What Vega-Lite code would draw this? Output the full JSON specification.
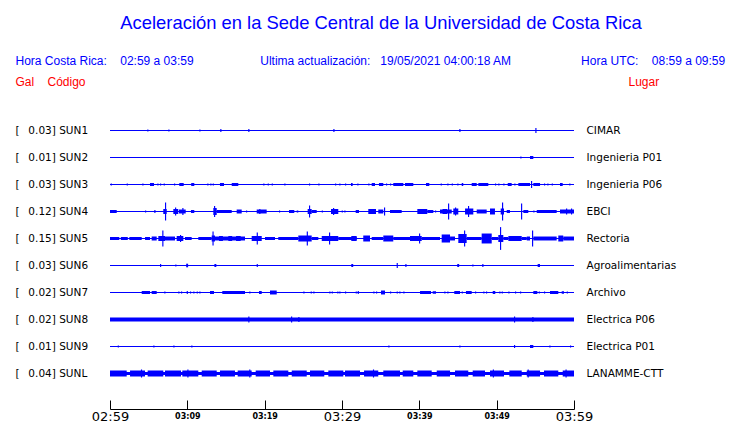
{
"$schema": "https://vega.github.io/schema/vega-lite/v6.json",
"autosize": {"type": "none"},
"padding": {"left": 110, "top": 117, "right": 166, "bottom": 36},
"width": 464,
"height": 270,
"background": "white",
"title": {"text": "Aceleración en la Sede Central de la Universidad de Costa Rica", "anchor": "middle", "frame": "group", "dx": 39, "font": "Liberation Sans", "fontSize": 18.4, "fontWeight": "normal", "color": "#0000ff", "offset": 7, "baseline": "alphabetic"},
"config": {"view": {"stroke": null}, "axis": {"grid": false}},
"datasets": {
"st": [{"s":"SUN1"},{"s":"SUN2"},{"s":"SUN3"},{"s":"SUN4"},{"s":"SUN5"},{"s":"SUN6"},{"s":"SUN7"},{"s":"SUN8"},{"s":"SUN9"},{"s":"SUNL"}],
"tr": [
{"s":"SUN1","t0":4.82,"t1":4.97,"a":0.017},{"s":"SUN1","t0":7.54,"t1":7.69,"a":0.017},{"s":"SUN1","t0":11.55,"t1":11.7,"a":0.017},{"s":"SUN1","t0":14.26,"t1":14.41,"a":0.025},{"s":"SUN1","t0":17.88,"t1":18.03,"a":0.025},{"s":"SUN1","t0":28.88,"t1":29.03,"a":0.025},{"s":"SUN1","t0":45.17,"t1":45.32,"a":0.025},{"s":"SUN1","t0":55.0,"t1":55.15,"a":0.042},
{"s":"SUN2","t0":53.06,"t1":53.21,"a":0.017},{"s":"SUN2","t0":54.31,"t1":54.74,"a":0.025},
{"s":"SUN3","t0":0.09,"t1":0.24,"a":0.017},{"s":"SUN3","t0":2.16,"t1":2.31,"a":0.017},{"s":"SUN3","t0":4.18,"t1":4.33,"a":0.017},{"s":"SUN3","t0":5.17,"t1":5.69,"a":0.025},{"s":"SUN3","t0":6.12,"t1":6.27,"a":0.017},{"s":"SUN3","t0":6.47,"t1":6.62,"a":0.017},{"s":"SUN3","t0":6.94,"t1":7.09,"a":0.017},{"s":"SUN3","t0":8.28,"t1":8.43,"a":0.017},{"s":"SUN3","t0":8.96,"t1":9.53,"a":0.025},{"s":"SUN3","t0":10.5,"t1":10.9,"a":0.025},{"s":"SUN3","t0":12.58,"t1":12.73,"a":0.017},{"s":"SUN3","t0":12.97,"t1":13.12,"a":0.017},{"s":"SUN3","t0":13.28,"t1":13.43,"a":0.017},{"s":"SUN3","t0":14.22,"t1":14.74,"a":0.025},{"s":"SUN3","t0":15.74,"t1":16.59,"a":0.025},{"s":"SUN3","t0":19.82,"t1":19.97,"a":0.017},{"s":"SUN3","t0":20.39,"t1":20.54,"a":0.017},{"s":"SUN3","t0":20.91,"t1":21.06,"a":0.017},{"s":"SUN3","t0":22.54,"t1":22.69,"a":0.017},{"s":"SUN3","t0":25.73,"t1":25.88,"a":0.017},{"s":"SUN3","t0":26.94,"t1":27.09,"a":0.017},{"s":"SUN3","t0":29.1,"t1":29.25,"a":0.017},{"s":"SUN3","t0":29.65,"t1":29.8,"a":0.017},{"s":"SUN3","t0":30.39,"t1":30.54,"a":0.017},{"s":"SUN3","t0":31.16,"t1":31.38,"a":0.025},{"s":"SUN3","t0":31.98,"t1":32.13,"a":0.017},{"s":"SUN3","t0":33.4,"t1":33.55,"a":0.017},{"s":"SUN3","t0":33.84,"t1":34.27,"a":0.025},{"s":"SUN3","t0":34.78,"t1":35.34,"a":0.025},{"s":"SUN3","t0":35.69,"t1":35.84,"a":0.017},{"s":"SUN3","t0":36.21,"t1":36.36,"a":0.017},{"s":"SUN3","t0":36.63,"t1":37.93,"a":0.025},{"s":"SUN3","t0":38.15,"t1":39.22,"a":0.025},{"s":"SUN3","t0":40.86,"t1":41.29,"a":0.025},{"s":"SUN3","t0":42.76,"t1":42.91,"a":0.017},{"s":"SUN3","t0":43.62,"t1":43.77,"a":0.017},{"s":"SUN3","t0":44.19,"t1":44.34,"a":0.017},{"s":"SUN3","t0":44.91,"t1":45.06,"a":0.017},{"s":"SUN3","t0":45.48,"t1":45.68,"a":0.025},{"s":"SUN3","t0":46.77,"t1":47.42,"a":0.025},{"s":"SUN3","t0":47.63,"t1":48.92,"a":0.025},{"s":"SUN3","t0":49.78,"t1":49.93,"a":0.017},{"s":"SUN3","t0":50.21,"t1":50.36,"a":0.017},{"s":"SUN3","t0":50.86,"t1":51.01,"a":0.017},{"s":"SUN3","t0":51.43,"t1":51.94,"a":0.025},{"s":"SUN3","t0":52.28,"t1":52.43,"a":0.017},{"s":"SUN3","t0":52.8,"t1":54.31,"a":0.025},{"s":"SUN3","t0":54.44,"t1":54.59,"a":0.058},{"s":"SUN3","t0":54.74,"t1":55.61,"a":0.025},{"s":"SUN3","t0":56.12,"t1":56.27,"a":0.017},{"s":"SUN3","t0":56.55,"t1":56.7,"a":0.017},{"s":"SUN3","t0":57.12,"t1":57.27,"a":0.017},{"s":"SUN3","t0":58.19,"t1":58.54,"a":0.025},{"s":"SUN3","t0":59.39,"t1":59.54,"a":0.017},
{"s":"SUN4","t0":0,"t1":0.87,"a":0.025},{"s":"SUN4","t0":4.53,"t1":4.68,"a":0.017},{"s":"SUN4","t0":5.73,"t1":5.88,"a":0.025},{"s":"SUN4","t0":6.89,"t1":7.33,"a":0.042},{"s":"SUN4","t0":7.11,"t1":7.26,"a":0.15},{"s":"SUN4","t0":8.19,"t1":8.83,"a":0.042},{"s":"SUN4","t0":8.41,"t1":8.56,"a":0.067},{"s":"SUN4","t0":8.92,"t1":9.79,"a":0.033},{"s":"SUN4","t0":9.35,"t1":9.5,"a":0.058},{"s":"SUN4","t0":10.47,"t1":10.9,"a":0.025},{"s":"SUN4","t0":13.36,"t1":13.8,"a":0.058},{"s":"SUN4","t0":13.45,"t1":13.6,"a":0.092},{"s":"SUN4","t0":13.8,"t1":15.74,"a":0.025},{"s":"SUN4","t0":16.38,"t1":17.03,"a":0.033},{"s":"SUN4","t0":17.59,"t1":17.74,"a":0.017},{"s":"SUN4","t0":18.97,"t1":20.26,"a":0.033},{"s":"SUN4","t0":19.3,"t1":19.45,"a":0.042},{"s":"SUN4","t0":21.85,"t1":22.0,"a":0.017},{"s":"SUN4","t0":23.15,"t1":23.83,"a":0.025},{"s":"SUN4","t0":24.14,"t1":24.35,"a":0.017},{"s":"SUN4","t0":25.56,"t1":26.08,"a":0.042},{"s":"SUN4","t0":25.73,"t1":25.88,"a":0.1},{"s":"SUN4","t0":26.08,"t1":26.73,"a":0.025},{"s":"SUN4","t0":27.38,"t1":27.53,"a":0.017},{"s":"SUN4","t0":28.58,"t1":29.52,"a":0.042},{"s":"SUN4","t0":28.84,"t1":28.99,"a":0.058},{"s":"SUN4","t0":29.96,"t1":30.11,"a":0.017},{"s":"SUN4","t0":30.3,"t1":30.45,"a":0.017},{"s":"SUN4","t0":31.77,"t1":32.2,"a":0.025},{"s":"SUN4","t0":33.4,"t1":34.4,"a":0.042},{"s":"SUN4","t0":34.69,"t1":35.34,"a":0.033},{"s":"SUN4","t0":35.43,"t1":35.58,"a":0.067},{"s":"SUN4","t0":36.21,"t1":37.72,"a":0.025},{"s":"SUN4","t0":39.74,"t1":41.03,"a":0.042},{"s":"SUN4","t0":41.03,"t1":41.81,"a":0.025},{"s":"SUN4","t0":42.03,"t1":42.18,"a":0.017},{"s":"SUN4","t0":42.67,"t1":44.19,"a":0.033},{"s":"SUN4","t0":43.0,"t1":43.6,"a":0.042},{"s":"SUN4","t0":43.71,"t1":43.86,"a":0.133},{"s":"SUN4","t0":44.39,"t1":45.04,"a":0.05},{"s":"SUN4","t0":44.61,"t1":44.76,"a":0.067},{"s":"SUN4","t0":45.91,"t1":46.98,"a":0.05},{"s":"SUN4","t0":46.29,"t1":46.44,"a":0.092},{"s":"SUN4","t0":47.42,"t1":48.71,"a":0.033},{"s":"SUN4","t0":49.14,"t1":49.78,"a":0.05},{"s":"SUN4","t0":50.52,"t1":50.95,"a":0.05},{"s":"SUN4","t0":50.69,"t1":50.84,"a":0.15},{"s":"SUN4","t0":51.3,"t1":51.72,"a":0.025},{"s":"SUN4","t0":53.15,"t1":53.3,"a":0.133},{"s":"SUN4","t0":53.45,"t1":54.09,"a":0.025},{"s":"SUN4","t0":54.74,"t1":54.89,"a":0.017},{"s":"SUN4","t0":55.18,"t1":57.76,"a":0.025},{"s":"SUN4","t0":58.19,"t1":60,"a":0.033},{"s":"SUN4","t0":58.97,"t1":59.12,"a":0.05},{"s":"SUN4","t0":59.61,"t1":59.76,"a":0.05},
{"s":"SUN5","t0":0,"t1":1.2,"a":0.025},{"s":"SUN5","t0":1.4,"t1":2.3,"a":0.025},{"s":"SUN5","t0":2.5,"t1":4.1,"a":0.025},{"s":"SUN5","t0":4.53,"t1":5.17,"a":0.025},{"s":"SUN5","t0":5.39,"t1":6.04,"a":0.033},{"s":"SUN5","t0":6.25,"t1":7.11,"a":0.042},{"s":"SUN5","t0":6.76,"t1":6.91,"a":0.133},{"s":"SUN5","t0":7.11,"t1":8.41,"a":0.033},{"s":"SUN5","t0":8.62,"t1":9.48,"a":0.042},{"s":"SUN5","t0":9.05,"t1":9.2,"a":0.058},{"s":"SUN5","t0":9.7,"t1":10.56,"a":0.025},{"s":"SUN5","t0":11.42,"t1":13.15,"a":0.025},{"s":"SUN5","t0":13.15,"t1":13.58,"a":0.05},{"s":"SUN5","t0":13.25,"t1":13.4,"a":0.117},{"s":"SUN5","t0":13.58,"t1":17.46,"a":0.033},{"s":"SUN5","t0":14.1,"t1":14.6,"a":0.042},{"s":"SUN5","t0":15.3,"t1":15.8,"a":0.042},{"s":"SUN5","t0":16.3,"t1":16.9,"a":0.042},{"s":"SUN5","t0":18.32,"t1":19.62,"a":0.042},{"s":"SUN5","t0":18.97,"t1":19.12,"a":0.1},{"s":"SUN5","t0":20.04,"t1":21.34,"a":0.025},{"s":"SUN5","t0":21.76,"t1":24.35,"a":0.025},{"s":"SUN5","t0":24.35,"t1":26.08,"a":0.05},{"s":"SUN5","t0":25.44,"t1":25.59,"a":0.117},{"s":"SUN5","t0":26.08,"t1":26.94,"a":0.025},{"s":"SUN5","t0":27.38,"t1":29.52,"a":0.042},{"s":"SUN5","t0":28.32,"t1":28.47,"a":0.1},{"s":"SUN5","t0":29.52,"t1":31.9,"a":0.025},{"s":"SUN5","t0":31.2,"t1":31.9,"a":0.042},{"s":"SUN5","t0":32.75,"t1":33.62,"a":0.05},{"s":"SUN5","t0":33.84,"t1":35.34,"a":0.025},{"s":"SUN5","t0":35.34,"t1":36.63,"a":0.05},{"s":"SUN5","t0":36.63,"t1":38.79,"a":0.025},{"s":"SUN5","t0":38.79,"t1":40.31,"a":0.042},{"s":"SUN5","t0":39.96,"t1":40.11,"a":0.083},{"s":"SUN5","t0":40.31,"t1":42.67,"a":0.025},{"s":"SUN5","t0":42.89,"t1":43.97,"a":0.067},{"s":"SUN5","t0":43.97,"t1":44.61,"a":0.033},{"s":"SUN5","t0":45.04,"t1":46.12,"a":0.075},{"s":"SUN5","t0":45.78,"t1":45.93,"a":0.133},{"s":"SUN5","t0":46.12,"t1":48.06,"a":0.025},{"s":"SUN5","t0":48.06,"t1":49.36,"a":0.083},{"s":"SUN5","t0":49.36,"t1":50.21,"a":0.025},{"s":"SUN5","t0":50.21,"t1":50.86,"a":0.058},{"s":"SUN5","t0":50.43,"t1":50.58,"a":0.19},{"s":"SUN5","t0":50.86,"t1":51.51,"a":0.025},{"s":"SUN5","t0":51.51,"t1":53.24,"a":0.042},{"s":"SUN5","t0":53.24,"t1":53.89,"a":0.025},{"s":"SUN5","t0":53.89,"t1":54.31,"a":0.033},{"s":"SUN5","t0":54.57,"t1":54.72,"a":0.133},{"s":"SUN5","t0":54.74,"t1":57.76,"a":0.033},{"s":"SUN5","t0":57.97,"t1":58.61,"a":0.05},{"s":"SUN5","t0":58.61,"t1":60,"a":0.033},
{"s":"SUN6","t0":6.47,"t1":6.62,"a":0.025},{"s":"SUN6","t0":8.44,"t1":8.59,"a":0.017},{"s":"SUN6","t0":9.85,"t1":10.1,"a":0.03},{"s":"SUN6","t0":13.5,"t1":13.75,"a":0.025},{"s":"SUN6","t0":18.97,"t1":19.12,"a":0.025},{"s":"SUN6","t0":31.2,"t1":31.45,"a":0.025},{"s":"SUN6","t0":37.07,"t1":37.22,"a":0.042},{"s":"SUN6","t0":38.19,"t1":38.34,"a":0.025},{"s":"SUN6","t0":44.9,"t1":45.15,"a":0.025},{"s":"SUN6","t0":46.85,"t1":47.0,"a":0.017},{"s":"SUN6","t0":48.14,"t1":48.29,"a":0.025},{"s":"SUN6","t0":55.3,"t1":55.6,"a":0.025},
{"s":"SUN7","t0":4.1,"t1":5.17,"a":0.025},{"s":"SUN7","t0":5.39,"t1":6.04,"a":0.025},{"s":"SUN7","t0":7.02,"t1":7.17,"a":0.017},{"s":"SUN7","t0":8.83,"t1":8.98,"a":0.017},{"s":"SUN7","t0":9.18,"t1":9.33,"a":0.017},{"s":"SUN7","t0":9.92,"t1":10.07,"a":0.025},{"s":"SUN7","t0":10.34,"t1":10.49,"a":0.017},{"s":"SUN7","t0":10.77,"t1":10.92,"a":0.017},{"s":"SUN7","t0":11.21,"t1":11.36,"a":0.017},{"s":"SUN7","t0":11.55,"t1":11.7,"a":0.017},{"s":"SUN7","t0":12.93,"t1":13.45,"a":0.025},{"s":"SUN7","t0":14.52,"t1":17.46,"a":0.025},{"s":"SUN7","t0":18.01,"t1":18.16,"a":0.017},{"s":"SUN7","t0":19.27,"t1":19.62,"a":0.025},{"s":"SUN7","t0":20.69,"t1":21.56,"a":0.033},{"s":"SUN7","t0":25.0,"t1":25.15,"a":0.017},{"s":"SUN7","t0":25.95,"t1":26.1,"a":0.017},{"s":"SUN7","t0":26.29,"t1":26.44,"a":0.017},{"s":"SUN7","t0":28.36,"t1":28.51,"a":0.017},{"s":"SUN7","t0":28.67,"t1":28.82,"a":0.017},{"s":"SUN7","t0":29.39,"t1":29.54,"a":0.017},{"s":"SUN7","t0":29.65,"t1":29.8,"a":0.017},{"s":"SUN7","t0":30.39,"t1":30.54,"a":0.017},{"s":"SUN7","t0":31.77,"t1":31.92,"a":0.017},{"s":"SUN7","t0":32.03,"t1":32.18,"a":0.025},{"s":"SUN7","t0":34.05,"t1":34.2,"a":0.017},{"s":"SUN7","t0":34.4,"t1":34.55,"a":0.017},{"s":"SUN7","t0":35.04,"t1":35.56,"a":0.033},{"s":"SUN7","t0":36.21,"t1":36.36,"a":0.017},{"s":"SUN7","t0":37.07,"t1":37.22,"a":0.017},{"s":"SUN7","t0":37.41,"t1":37.56,"a":0.017},{"s":"SUN7","t0":37.93,"t1":38.08,"a":0.017},{"s":"SUN7","t0":40.09,"t1":41.51,"a":0.025},{"s":"SUN7","t0":41.73,"t1":42.16,"a":0.021},{"s":"SUN7","t0":43.23,"t1":43.38,"a":0.017},{"s":"SUN7","t0":43.62,"t1":43.77,"a":0.017},{"s":"SUN7","t0":44.52,"t1":45.26,"a":0.025},{"s":"SUN7","t0":45.48,"t1":45.63,"a":0.017},{"s":"SUN7","t0":46.03,"t1":46.77,"a":0.025},{"s":"SUN7","t0":47.2,"t1":47.35,"a":0.017},{"s":"SUN7","t0":48.27,"t1":48.42,"a":0.017},{"s":"SUN7","t0":48.62,"t1":48.77,"a":0.017},{"s":"SUN7","t0":49.49,"t1":49.82,"a":0.025},{"s":"SUN7","t0":50.34,"t1":50.49,"a":0.017},{"s":"SUN7","t0":50.65,"t1":50.8,"a":0.017},{"s":"SUN7","t0":51.51,"t1":51.66,"a":0.017},{"s":"SUN7","t0":52.37,"t1":52.52,"a":0.017},{"s":"SUN7","t0":53.02,"t1":53.17,"a":0.017},{"s":"SUN7","t0":54.74,"t1":55.26,"a":0.025},{"s":"SUN7","t0":55.44,"t1":55.59,"a":0.017},{"s":"SUN7","t0":56.12,"t1":56.27,"a":0.017},{"s":"SUN7","t0":56.9,"t1":57.97,"a":0.025},{"s":"SUN7","t0":58.41,"t1":58.71,"a":0.021},{"s":"SUN7","t0":59.06,"t1":59.21,"a":0.017},
{"s":"SUN8","t0":0,"t1":60,"a":0.033},{"s":"SUN8","t0":17.88,"t1":18.03,"a":0.05},{"s":"SUN8","t0":23.41,"t1":23.56,"a":0.05},{"s":"SUN8","t0":24.35,"t1":24.5,"a":0.042},{"s":"SUN8","t0":52.24,"t1":52.39,"a":0.05},{"s":"SUN8","t0":54.61,"t1":54.76,"a":0.042},
{"s":"SUN9","t0":1.0,"t1":1.15,"a":0.017},{"s":"SUN9","t0":5.6,"t1":5.75,"a":0.017},{"s":"SUN9","t0":8.19,"t1":8.34,"a":0.017},{"s":"SUN9","t0":10.51,"t1":10.66,"a":0.017},{"s":"SUN9","t0":35.99,"t1":36.14,"a":0.017},{"s":"SUN9","t0":45.17,"t1":45.32,"a":0.017},{"s":"SUN9","t0":52.24,"t1":52.39,"a":0.025},{"s":"SUN9","t0":54.31,"t1":54.74,"a":0.025},{"s":"SUN9","t0":56.81,"t1":56.96,"a":0.017},{"s":"SUN9","t0":59.48,"t1":59.63,"a":0.017},
{"s":"SUNL","t0":0,"t1":60,"a":0.025},{"s":"SUNL","t0":0,"t1":2.16,"a":0.05},{"s":"SUNL","t0":2.59,"t1":4.53,"a":0.05},{"s":"SUNL","t0":4.87,"t1":6.89,"a":0.05},{"s":"SUNL","t0":7.11,"t1":9.18,"a":0.05},{"s":"SUNL","t0":9.35,"t1":11.42,"a":0.05},{"s":"SUNL","t0":11.86,"t1":13.8,"a":0.05},{"s":"SUNL","t0":14.22,"t1":16.16,"a":0.05},{"s":"SUNL","t0":16.51,"t1":18.32,"a":0.05},{"s":"SUNL","t0":18.84,"t1":20.69,"a":0.05},{"s":"SUNL","t0":21.12,"t1":23.06,"a":0.05},{"s":"SUNL","t0":23.5,"t1":25.44,"a":0.05},{"s":"SUNL","t0":25.86,"t1":27.71,"a":0.05},{"s":"SUNL","t0":28.23,"t1":30.17,"a":0.05},{"s":"SUNL","t0":30.39,"t1":32.33,"a":0.05},{"s":"SUNL","t0":32.85,"t1":34.69,"a":0.05},{"s":"SUNL","t0":35.34,"t1":37.5,"a":0.05},{"s":"SUNL","t0":37.85,"t1":39.22,"a":0.05},{"s":"SUNL","t0":39.74,"t1":41.6,"a":0.05},{"s":"SUNL","t0":42.25,"t1":43.97,"a":0.05},{"s":"SUNL","t0":44.61,"t1":46.33,"a":0.05},{"s":"SUNL","t0":46.9,"t1":48.49,"a":0.05},{"s":"SUNL","t0":49.14,"t1":50.95,"a":0.05},{"s":"SUNL","t0":51.64,"t1":53.24,"a":0.05},{"s":"SUNL","t0":53.89,"t1":55.61,"a":0.05},{"s":"SUNL","t0":56.12,"t1":57.97,"a":0.05},{"s":"SUNL","t0":58.54,"t1":60,"a":0.05},{"s":"SUNL","t0":4.0,"t1":4.15,"a":0.067},{"s":"SUNL","t0":10.0,"t1":10.15,"a":0.067},{"s":"SUNL","t0":18.0,"t1":18.15,"a":0.067},{"s":"SUNL","t0":34.0,"t1":34.15,"a":0.067},{"s":"SUNL","t0":49.5,"t1":49.65,"a":0.067},{"s":"SUNL","t0":54.0,"t1":54.15,"a":0.067},{"s":"SUNL","t0":58.9,"t1":59.05,"a":0.067}
]},
"resolve": {"axis": {"y": "independent"}},
"layer": [
{"data": {"name": "st"},
 "mark": {"type": "rule", "color": "#0000ff", "strokeWidth": 1},
 "encoding": {
  "y": {"field": "s", "type": "nominal",
        "scale": {"domain": ["SUN1","SUN2","SUN3","SUN4","SUN5","SUN6","SUN7","SUN8","SUN9","SUNL"], "paddingInner": 0, "paddingOuter": 0},
        "axis": {"orient": "left", "domain": false, "ticks": false, "grid": false, "labelAlign": "left", "labelPadding": 95, "labelFont": "DejaVu Sans", "labelFontSize": 10.5, "labelColor": "#000000",
                 "labelExpr": "{'SUN1':'[\u00a0\u00a0\u20090.03]\u00a0SUN1','SUN2':'[\u00a0\u00a0\u20090.01]\u00a0SUN2','SUN3':'[\u00a0\u00a0\u20090.03]\u00a0SUN3','SUN4':'[\u00a0\u00a0\u20090.12]\u00a0SUN4','SUN5':'[\u00a0\u00a0\u20090.15]\u00a0SUN5','SUN6':'[\u00a0\u00a0\u20090.03]\u00a0SUN6','SUN7':'[\u00a0\u00a0\u20090.02]\u00a0SUN7','SUN8':'[\u00a0\u00a0\u20090.02]\u00a0SUN8','SUN9':'[\u00a0\u00a0\u20090.01]\u00a0SUN9','SUNL':'[\u00a0\u00a0\u20090.04]\u00a0SUNL'}[datum.value]",
                 "title": "Gal\u00a0\u00a0\u00a0\u00a0Código", "titleColor": "#ff0000", "titleFont": "Liberation Sans", "titleFontSize": 12, "titleFontWeight": "normal", "titleAngle": 0, "titleAlign": "left", "titleBaseline": "alphabetic", "titleX": -95, "titleY": -32}},
  "x": {"datum": 0, "type": "quantitative",
        "scale": {"domain": [0, 60], "nice": false, "zero": false},
        "axis": {"orient": "bottom", "offset": 22, "domain": true, "domainWidth": 1, "values": [0,5,10,15,20,25,30,35,40,45,50,55,60], "domainColor": "#000000", "tickColor": "#000000", "tickSize": -9, "labelPadding": 16, "labelBaseline": "middle", "labelFont": "DejaVu Sans", "labelColor": "#000000",
                 "labelFontSize": {"condition": {"test": "datum.value % 30 === 0", "value": 13}, "value": 8},
                 "labelFontWeight": {"condition": {"test": "datum.value % 30 === 0", "value": "normal"}, "value": "bold"},
                 "labelExpr": "datum.value % 10 === 0 ? (datum.value === 0 ? '02:59' : '03:' + format(datum.value - 1, '02d')) : ''",
                 "labelFlush": false, "labelOverlap": false, "labelBound": false, "grid": false,
                 "title": "Hora Costa Rica:\u00a0\u00a0\u00a0\u00a002:59 a 03:59\u00a0\u00a0\u00a0\u00a0\u00a0\u00a0\u00a0\u00a0\u00a0\u00a0\u00a0\u00a0\u00a0\u00a0\u00a0\u00a0\u00a0\u00a0\u00a0\u00a0Ultima actualización:\u00a0\u00a0\u00a019/05/2021 04:00:18 AM\u00a0\u00a0\u00a0\u00a0\u00a0\u00a0\u00a0\u00a0\u00a0\u00a0\u00a0\u00a0\u00a0\u00a0\u00a0\u00a0\u00a0\u00a0\u00a0\u00a0\u00a0Hora UTC:\u00a0\u00a0\u00a0\u00a008:59 a 09:59",
                 "titleColor": "#0000ff", "titleFont": "Liberation Sans", "titleFontSize": 12, "titleFontWeight": "normal", "titleAngle": 0, "titleAlign": "left", "titleBaseline": "alphabetic", "titleX": -95, "titleY": -345}},
  "x2": {"datum": 60}
 }},
{"data": {"name": "tr"},
 "mark": {"type": "bar", "color": "#0000ff", "orient": "horizontal"},
 "encoding": {
  "y": {"field": "s", "type": "nominal",
        "axis": {"orient": "right", "domain": false, "ticks": false, "grid": false, "labelAlign": "left", "labelPadding": 12, "labelFont": "DejaVu Sans", "labelFontSize": 10.5, "labelColor": "#000000",
                 "labelExpr": "{'SUN1':'CIMAR','SUN2':'Ingenieria P01','SUN3':'Ingenieria P06','SUN4':'EBCI','SUN5':'Rectoria','SUN6':'Agroalimentarias','SUN7':'Archivo','SUN8':'Electrica P06','SUN9':'Electrica P01','SUNL':'LANAMME-CTT'}[datum.value]",
                 "title": "Lugar", "titleColor": "#ff0000", "titleFont": "Liberation Sans", "titleFontSize": 12, "titleFontWeight": "normal", "titleAngle": 0, "titleAlign": "left", "titleBaseline": "alphabetic", "titleX": 54, "titleY": -32}},
  "x": {"field": "t0", "type": "quantitative"},
  "x2": {"field": "t1"},
  "size": {"field": "a", "type": "quantitative", "scale": {"domain": [0, 0.2], "range": [0, 24]}, "legend": null}
 }}
]
}
